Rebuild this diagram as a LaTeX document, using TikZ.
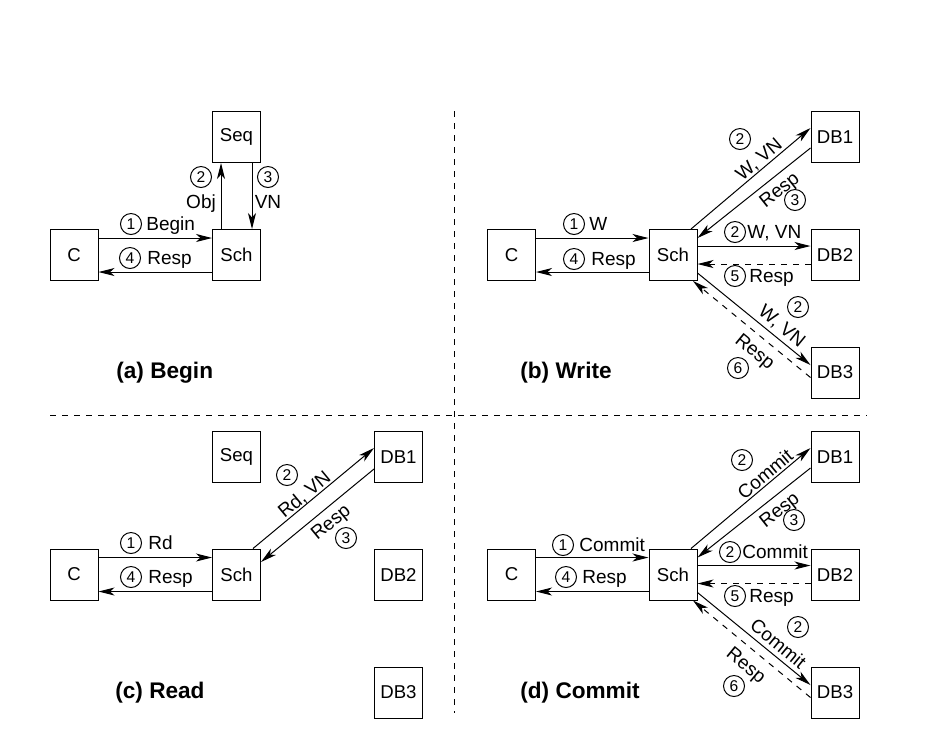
\documentclass[tikz,border=0pt]{standalone}
\usepackage{fontspec}
\setmainfont{Liberation Sans}
\usetikzlibrary{arrows.meta,positioning}

\tikzset{
	box/.style={draw, line width=0.5pt, minimum width=24pt, minimum height=25.5pt, inner sep=0pt, font=\fontsize{9.3}{9.3}\selectfont},
	lbl/.style={inner sep=0pt, text height=6.8pt, text depth=0pt, font=\fontsize{9.5}{9.5}\selectfont},
	num/.style={circle, draw, line width=0.5pt, minimum size=10.5pt, inner sep=0pt, text height=5.6pt, text depth=0pt, font=\fontsize{7.8}{7.8}\selectfont},
	ttl/.style={anchor=west, inner sep=0pt, font=\fontsize{11.3}{11.3}\selectfont\bfseries},
	arr/.style={line width=0.5pt, -{Stealth[length=8pt,width=4pt,inset=2.2pt]}},
	back/.style={arr, dashed},
}

\begin{document}
\begin{tikzpicture}[x=0.5pt, y=-0.5pt]
	\useasboundingbox (0,0) rectangle (942,752);
	
	% separators
	\draw[dashed, line width=0.5pt] (454,111) -- (454,713);
	\draw[dashed, line width=0.5pt] (50,415) -- (867,415);
	
	% (a) Begin
	\node[box] (aC) at (74,255) {C};
	\node[box] (aS) at (236.5,255) {Sch};
	\node[box] (aQ) at (236.5,137) {Seq};
	\draw[arr] ([yshift=8.5pt]aC.east) -- ([yshift=8.5pt]aS.west);
	\draw[arr] ([yshift=-8.5pt]aS.west) -- ([yshift=-8.5pt]aC.east);
	\draw[arr] ([xshift=-7.75pt]aS.north) -- ([xshift=-7.75pt]aQ.south);
	\draw[arr] ([xshift=7.75pt]aQ.south) -- ([xshift=7.75pt]aS.north);
	\node[num] (a1) at (131,224) {1};
	\node[lbl, right=2pt of a1] (a1t) {Begin};
	\node[num] (a4) at (130,258) {4};
	\node[lbl, right=3pt of a4] (a4t) {Resp};
	\node[num] (a2) at (201,177) {2};
	\node[lbl, below=3pt of a2] (a2t) {Obj};
	\node[num] (a3) at (268,177) {3};
	\node[lbl, below=3pt of a3] (a3t) {VN};
	\node[ttl] (aT) at (116,373) {(a) Begin};
	
	% (b) Write
	\node[box] (bC) at (511.5,255) {C};
	\node[box] (bS) at (673,255) {Sch};
	\node[box] (bD1) at (835,137) {DB1};
	\node[box] (bD2) at (835,255) {DB2};
	\node[box] (bD3) at (835,372.5) {DB3};
	\draw[arr] ([yshift=8.5pt]bC.east) -- ([yshift=8.5pt]bS.west);
	\draw[arr] ([yshift=-8.5pt]bS.west) -- ([yshift=-8.5pt]bC.east);
	\draw[arr] ([xshift=9pt]bS.north) -- node[lbl, pos=0.62, above=1.5pt, sloped] (bw1) {W, VN} ([yshift=4.5pt]bD1.west);
	\draw[arr] ([yshift=-5.5pt]bD1.west) -- node[lbl, pos=0.35, below=2.6pt, sloped] (br1) {Resp} ([yshift=8.5pt]bS.east);
	\draw[arr] ([yshift=4.5pt]bS.east) -- ([yshift=4.5pt]bD2.west);
	\draw[back] ([yshift=-4.5pt]bD2.west) -- ([yshift=-4.5pt]bS.east);
	\draw[arr] ([yshift=-9pt]bS.east) -- node[lbl, pos=0.68, above=2.8pt, sloped] (bw3) {W, VN} ([yshift=3.75pt]bD3.west);
	\draw[back] ([yshift=-2.5pt]bD3.west) -- node[lbl, pos=0.39, below=3.5pt, sloped] (br3) {Resp} ([xshift=10pt]bS.south);
	\node[num] (b1) at (574,224) {1};
	\node[lbl, right=2pt of b1] (b1t) {W};
	\node[num] (b4) at (574,259) {4};
	\node[lbl, right=3pt of b4] (b4t) {Resp};
	\node[num] (b2) at (740,139) {2};
	\node[num] (b3) at (795,200) {3};
	\node[num] (b2m) at (735,232) {2};
	\node[lbl, right=0.5pt of b2m] (b2mt) {W, VN};
	\node[num] (b5) at (735,276) {5};
	\node[lbl, right=1.5pt of b5] (b5t) {Resp};
	\node[num] (b2b) at (798,307) {2};
	\node[num] (b6) at (738,368) {6};
	\node[ttl] (bT) at (520,373) {(b) Write};
	
	% (c) Read
	\node[box] (cC) at (74,574.5) {C};
	\node[box] (cS) at (236.5,574.5) {Sch};
	\node[box] (cQ) at (236.5,457) {Seq};
	\node[box] (cD1) at (398.5,457) {DB1};
	\node[box] (cD2) at (398.5,574.5) {DB2};
	\node[box] (cD3) at (398.5,692.5) {DB3};
	\draw[arr] ([yshift=8.5pt]cC.east) -- ([yshift=8.5pt]cS.west);
	\draw[arr] ([yshift=-8.5pt]cS.west) -- ([yshift=-8.5pt]cC.east);
	\draw[arr] ([xshift=8.25pt]cS.north) -- node[lbl, pos=0.47, above=1pt, sloped] (cw1) {Rd, VN} ([yshift=4.5pt]cD1.west);
	\draw[arr] ([yshift=-6pt]cD1.west) -- node[lbl, pos=0.46, below=2.7pt, sloped] (cr1) {Resp} ([yshift=6.25pt]cS.east);
	\node[num] (c1) at (131,543) {1};
	\node[lbl, right=3pt of c1] (c1t) {Rd};
	\node[num] (c4) at (131,577) {4};
	\node[lbl, right=3pt of c4] (c4t) {Resp};
	\node[num] (c2) at (287,475) {2};
	\node[num] (c3) at (346,538) {3};
	\node[ttl] (cT) at (115,693) {(c) Read};
	
	% (d) Commit
	\node[box] (dC) at (511.5,574.5) {C};
	\node[box] (dS) at (673,574.5) {Sch};
	\node[box] (dD1) at (835,457) {DB1};
	\node[box] (dD2) at (835,574.5) {DB2};
	\node[box] (dD3) at (835,692.5) {DB3};
	\draw[arr] ([yshift=8.5pt]dC.east) -- ([yshift=8.5pt]dS.west);
	\draw[arr] ([yshift=-8.5pt]dS.west) -- ([yshift=-8.5pt]dC.east);
	\draw[arr] ([xshift=9pt]dS.north) -- node[lbl, pos=0.67, above=1pt, sloped] (dw1) {Commit} ([yshift=4.5pt]dD1.west);
	\draw[arr] ([yshift=-5.5pt]dD1.west) -- node[lbl, pos=0.35, below=2.75pt, sloped] (dr1) {Resp} ([yshift=8.5pt]dS.east);
	\draw[arr] ([yshift=4.5pt]dS.east) -- ([yshift=4.5pt]dD2.west);
	\draw[back] ([yshift=-4.5pt]dD2.west) -- ([yshift=-4.5pt]dS.east);
	\draw[arr] ([yshift=-9pt]dS.east) -- node[lbl, pos=0.65, above=2.3pt, sloped] (dw3) {Commit} ([yshift=3.75pt]dD3.west);
	\draw[back] ([yshift=-2.5pt]dD3.west) -- node[lbl, pos=0.46, below=4pt, sloped] (dr3) {Resp} ([xshift=10pt]dS.south);
	\node[num] (d1) at (563,545) {1};
	\node[lbl, right=2.5pt of d1] (d1t) {Commit};
	\node[num] (d4) at (566,577) {4};
	\node[lbl, right=2.5pt of d4] (d4t) {Resp};
	\node[num] (d2) at (742,460) {2};
	\node[num] (d3) at (794,520) {3};
	\node[num] (d2m) at (730,552) {2};
	\node[lbl, right=0.5pt of d2m] (d2mt) {Commit};
	\node[num] (d5) at (735,596) {5};
	\node[lbl, right=1.5pt of d5] (d5t) {Resp};
	\node[num] (d2b) at (798,627) {2};
	\node[num] (d6) at (734,686) {6};
	\node[ttl] (dT) at (520,693) {(d) Commit};
\end{tikzpicture}
\end{document}
